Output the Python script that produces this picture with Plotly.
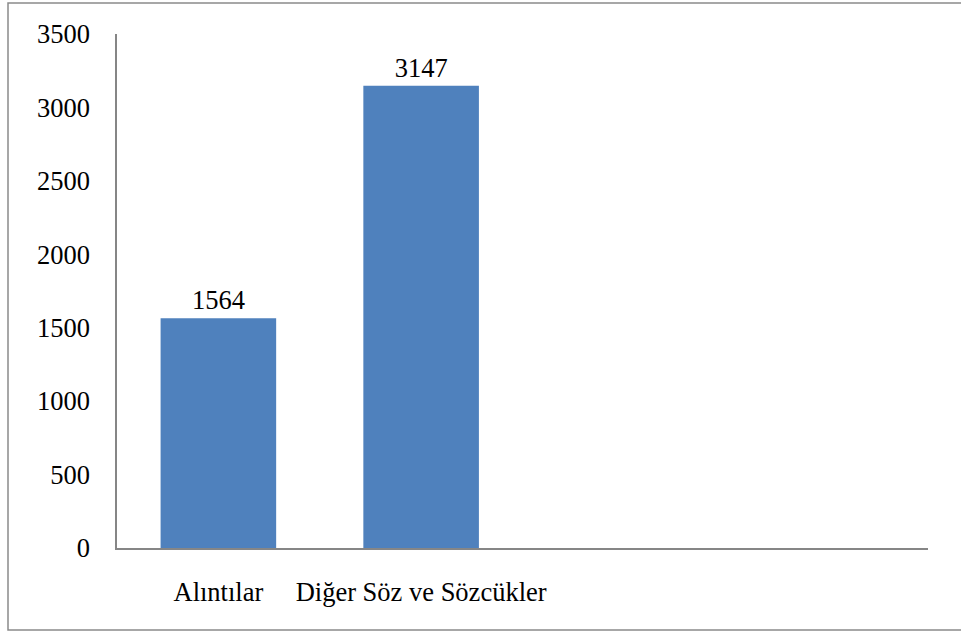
import plotly.graph_objects as go

categories = ["Alıntılar", "Diğer Söz ve Sözcükler"]
values = [1564, 3147]
y_ticks = [0, 500, 1000, 1500, 2000, 2500, 3000, 3500]

W, H = 961, 632
L, R, T, B = 117, 33, 34, 84
pw, ph = W - L - R, H - T - B
FONT = "Liberation Serif, Times New Roman, Times, serif"
FS = 26.5

x_pos = list(range(len(categories)))

fig = go.Figure(go.Bar(
    x=x_pos, y=values, width=0.57,
    marker=dict(color="#4F81BD", line=dict(width=0)),
    text=[str(v) for v in values], textposition="outside",
    textfont=dict(family=FONT, size=FS, color="black"),
    cliponaxis=False,
))

def px_to_paper_x(px):
    return (px - L) / pw

def px_to_paper_y(py):
    return (H - B - py) / ph

fig.add_shape(type="rect", xref="paper", yref="paper",
              x0=px_to_paper_x(8), x1=px_to_paper_x(970),
              y0=px_to_paper_y(630), y1=px_to_paper_y(3),
              line=dict(color="#8a8a8a", width=1.5), fillcolor="rgba(0,0,0,0)",
              layer="below")

fig.update_layout(
    width=W, height=H,
    margin=dict(l=L, r=R, t=T, b=B, pad=0),
    paper_bgcolor="white", plot_bgcolor="white",
    font=dict(family=FONT, size=FS, color="black"),
    showlegend=False,
    bargap=0.43,
    xaxis=dict(range=[-0.5, 3.5], tickvals=x_pos, ticktext=categories,
               showgrid=False, zeroline=False, showline=True,
               linecolor="#868686", linewidth=1.5,
               ticks="outside", ticklen=19, tickcolor="rgba(0,0,0,0)"),
    yaxis=dict(range=[0, 3500], tickvals=y_ticks,
               showgrid=False, zeroline=False, showline=True,
               linecolor="#868686", linewidth=1.5,
               ticks="outside", ticklen=20, tickcolor="rgba(0,0,0,0)"),
)

fig.write_html("out.html", config={"displayModeBar": False},
               post_script="document.body.style.margin='0';document.body.style.overflow='hidden';")
